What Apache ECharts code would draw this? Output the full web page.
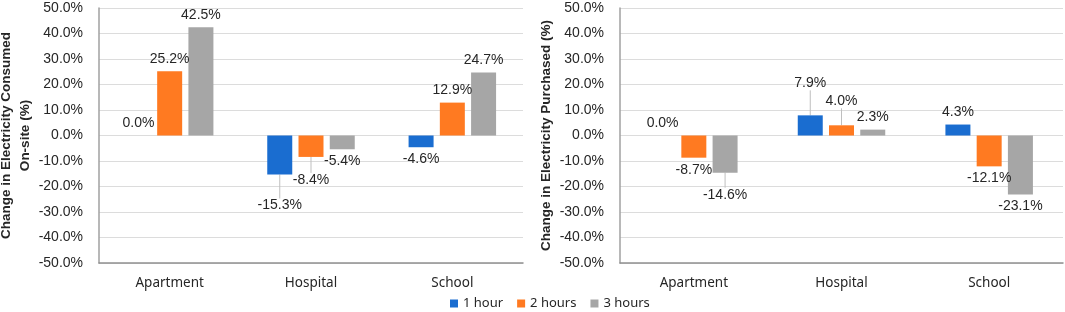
<!DOCTYPE html>
<html>
<head>
<meta charset="utf-8">
<script src="https://cdn.jsdelivr.net/npm/echarts@6/dist/echarts.min.js"></script>
<style>
  html, body { margin: 0; padding: 0; background: #fff; }
  #chart { width: 1065px; height: 312px; }
</style>
</head>
<body>
<div id="chart"></div>
<script>
// data
const categories = ['Apartment', 'Hospital', 'School']
const seriesNames = ['1 hour', '2 hours', '3 hours']

const consumed1h = [0.0, -15.3, -4.6]
const consumed2h = [25.2, -8.4, 12.9]
const consumed3h = [42.5, -5.4, 24.7]

const purchased1h = [0.0, 7.9, 4.3]
const purchased2h = [-8.7, 4.0, -12.1]
const purchased3h = [-14.6, 2.3, -23.1]

const yTicks = [-50, -40, -30, -20, -10, 0, 10, 20, 30, 40, 50]

// label nudges (px, vertical) where the labels were pulled off the bar
const consumedShift = [[0, 19, 0], [0, 11, 0], [0, 0, 0]]
const purchasedShift = [[0, -20, 0], [0, -12, 0], [10, 0, 0]]

const colors = ['#1a6dd0', '#ff7a21', '#a6a6a6']
const labelFont = 'Liberation Sans, Arial, sans-serif'
const catFont = 'Noto Sans, sans-serif'

let chart = echarts.init(document.getElementById('chart'))

function makeSeries (values, k, shift, gridIdx) {
  return {
    name: seriesNames[k],
    type: 'bar',
    xAxisIndex: gridIdx,
    yAxisIndex: gridIdx,
    barWidth: 25,
    barGap: '25%',
    itemStyle: { color: colors[k] },
    data: values.map((v, i) => ({
      value: v,
      labelLine: { show: shift[k][i] !== 0 }
    })),
    label: {
      show: true,
      position: 'top',
      distance: 5,
      fontFamily: labelFont,
      fontSize: 14,
      color: '#262626',
      formatter: p => p.value.toFixed(1) + '%'
    },
    labelLine: {
      lineStyle: { color: '#bfbfbf', width: 1 }
    },
    labelLayout: p => {
      let dy = shift[k][p.dataIndex]
      let v = values[p.dataIndex]
      // negative bars get their label underneath
      if (v < 0) {
        return {
          x: p.rect.x + p.rect.width / 2,
          y: p.rect.y + p.rect.height + 5 + p.labelRect.height / 2 + dy,
          align: 'center',
          verticalAlign: 'middle'
        }
      }
      return { dy: dy }
    }
  }
}

function yAxis (idx, name, gap) {
  return {
    type: 'value',
    gridIndex: idx,
    min: -50,
    max: 50,
    interval: 10,
    name: name,
    nameLocation: 'middle',
    nameRotate: 90,
    nameGap: gap,
    nameTextStyle: {
      fontFamily: labelFont,
      fontWeight: 'bold',
      fontSize: 13.5,
      lineHeight: 19,
      color: '#262626'
    },
    axisLine: { show: true, lineStyle: { color: '#a0a0a0', width: 1.5 } },
    axisTick: { show: false },
    axisLabel: {
      fontFamily: labelFont,
      fontSize: 14,
      color: '#262626',
      margin: 16,
      formatter: v => (yTicks.indexOf(v) >= 0 ? v.toFixed(1) + '%' : '')
    },
    splitLine: { lineStyle: { color: '#dcdcdc', width: 1 } }
  }
}

function xAxis (idx) {
  return {
    type: 'category',
    gridIndex: idx,
    data: categories,
    axisLine: { onZero: false, lineStyle: { color: '#909090', width: 1.5 } },
    axisTick: { show: false },
    axisLabel: {
      fontFamily: catFont,
      fontSize: 13.5,
      color: '#262626',
      margin: 13
    }
  }
}

let option = {
  animation: false,
  color: colors,
  legend: {
    data: seriesNames,
    left: 450,
    top: 297,
    padding: 0,
    itemWidth: 8,
    itemHeight: 8,
    itemGap: 14,
    icon: 'rect',
    textStyle: { fontFamily: catFont, fontSize: 13, color: '#262626' }
  },
  grid: [
    { left: 99, right: 542, top: 8, bottom: 49, outerBoundsMode: 'none' },
    { left: 620, right: 2, top: 8, bottom: 49, outerBoundsMode: 'none' }
  ],
  xAxis: [xAxis(0), xAxis(1)],
  yAxis: [
    yAxis(0, 'Change in Electricity Consumed\nOn-site (%)', 58),
    yAxis(1, 'Change in Electricity Purchased (%)', 60)
  ],
  series: [
    makeSeries(consumed1h, 0, consumedShift, 0),
    makeSeries(consumed2h, 1, consumedShift, 0),
    makeSeries(consumed3h, 2, consumedShift, 0),
    makeSeries(purchased1h, 0, purchasedShift, 1),
    makeSeries(purchased2h, 1, purchasedShift, 1),
    makeSeries(purchased3h, 2, purchasedShift, 1)
  ]
}
chart.setOption(option)
</script>
</body>
</html>
